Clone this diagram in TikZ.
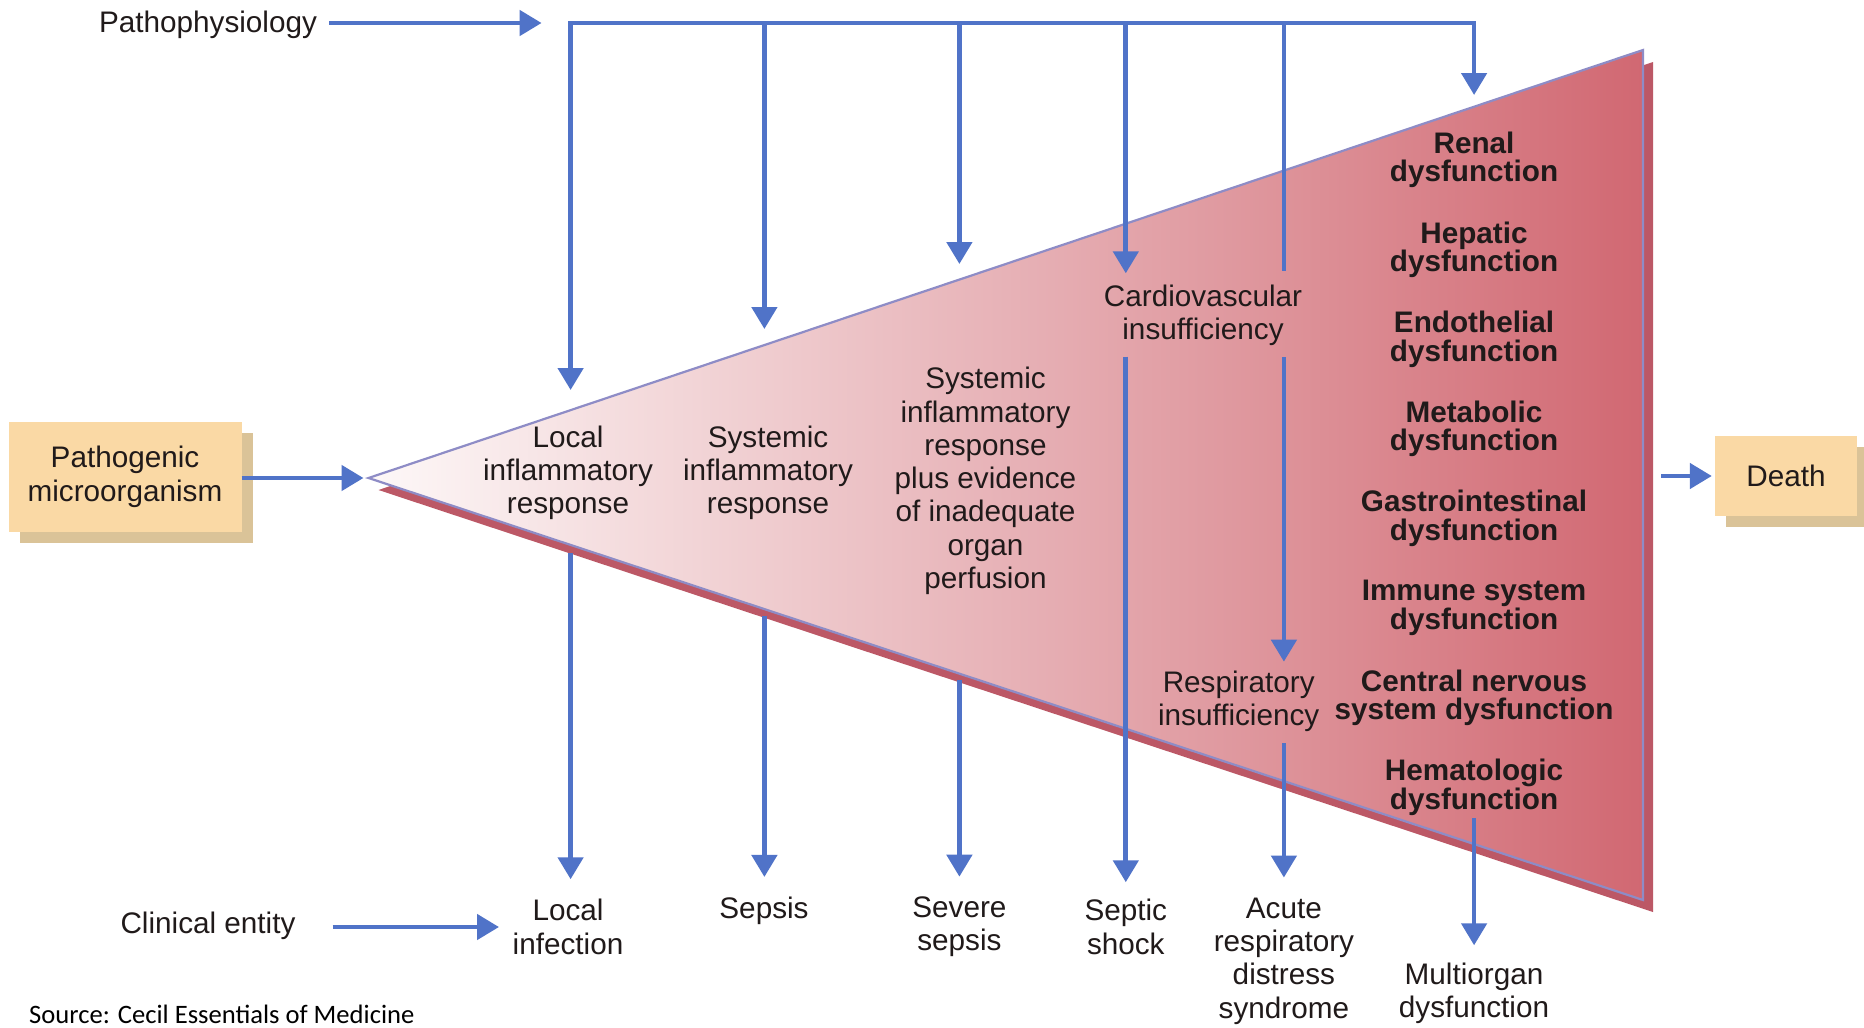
\documentclass[tikz,border=0pt]{standalone}
\usepackage{fontspec}
\setmainfont{Liberation Sans}
\newfontfamily\srcfont{Carlito}
\usetikzlibrary{arrows.meta,calc,shadows}
\definecolor{arrblue}{RGB}{80,115,200}
\definecolor{boxfill}{RGB}{250,217,165}
\definecolor{boxshadow}{RGB}{218,195,152}
\definecolor{txt}{RGB}{32,26,26}
\definecolor{edgecol}{RGB}{142,140,198}
\definecolor{trishadow}{RGB}{188,88,102}
\definecolor{tA}{RGB}{253,248,248}
\definecolor{tB}{RGB}{242,213,215}
\definecolor{tC}{RGB}{231,178,183}
\definecolor{tD}{RGB}{220,142,149}
\definecolor{tE}{RGB}{209,104,114}
\pgfdeclarehorizontalshading{trishade}{100bp}{color(0bp)=(tA); color(25bp)=(tA); color(37.5bp)=(tB); color(50bp)=(tC); color(62.5bp)=(tD); color(75bp)=(tE); color(100bp)=(tE)}
\tikzset{
  lbl/.style={font=\fontsize{29.7pt}{33.3pt}\selectfont, text=txt, align=center, inner sep=0pt},
  blbl/.style={font=\bfseries\fontsize{29.7pt}{28.5pt}\selectfont, text=txt, align=center, inner sep=0pt},
  arr/.style={draw=arrblue, line width=4.7pt, -{Triangle[length=22pt,width=25pt]}},
  ln/.style={draw=arrblue, line width=4.7pt},
  tanbox/.style={lbl, fill=boxfill, drop shadow={shadow xshift=11pt, shadow yshift=-11pt, fill=boxshadow, opacity=1}}
}
\begin{document}
\begin{tikzpicture}[x=1pt,y=-1pt]
\useasboundingbox (0,0) rectangle (1864,1028);
\fill[white] (0,0) rectangle (1864,1028);

% triangle
\coordinate (apex) at (368.5,478);
\coordinate (trt) at (1643,50);
\coordinate (trb) at (1643,900);
\coordinate (trmid) at (1643,476);
\fill[trishadow] ($(apex)+(10,12)$) -- ($(trt)+(10,12)$) -- ($(trb)+(10,12)$) -- cycle;
\shadedraw[shading=trishade, draw=edgecol, line width=2.2pt, line join=miter] (apex) -- (trt) -- (trb) -- cycle;

% boxes
\node[tanbox, minimum width=233pt, minimum height=110pt] (patho) at (125,476.7) {Pathogenic\\microorganism};
\node[tanbox, minimum width=142pt, minimum height=80pt] (death) at (1786,476) {Death};

% side labels
\node[lbl] (ph) at (208,25) {Pathophysiology};
\node[lbl] (ce) at (208,926) {Clinical entity};
\node[font=\srcfont\fontsize{26.6pt}{30pt}\selectfont, inner sep=0pt, anchor=west] (src) at (29,1014) {Source: Cecil Essentials of Medicine};

% middle labels
\node[lbl] (lir) at (568,473) {Local\\inflammatory\\response};
\node[lbl] (sir) at (768,473) {Systemic\\inflammatory\\response};
\node[lbl] (sirp) at (985.5,481) {Systemic\\inflammatory\\response\\plus evidence\\of inadequate\\organ\\perfusion};
\node[lbl] (cv) at (1203,315) {Cardiovascular\\insufficiency};
\node[lbl] (resp) at (1238.7,701.4) {Respiratory\\insufficiency};

% organ dysfunctions
\node[blbl] (ren) at (1474,160) {Renal\\dysfunction};
\node[blbl] (hep) at (1474,249.6) {Hepatic\\dysfunction};
\node[blbl] (endo) at (1474,339.2) {Endothelial\\dysfunction};
\node[blbl] (meta) at (1474,428.8) {Metabolic\\dysfunction};
\node[blbl] (gi) at (1474,518.4) {Gastrointestinal\\dysfunction};
\node[blbl] (imm) at (1474,608) {Immune system\\dysfunction};
\node[blbl] (cns) at (1474,697.6) {Central nervous\\system dysfunction};
\node[blbl] (hem) at (1474,787.2) {Hematologic\\dysfunction};

% clinical entities
\node[lbl] (linf) at (568,927) {Local\\infection};
\node[lbl] (seps) at (764,911) {Sepsis};
\node[lbl] (sev) at (959.4,927) {Severe\\sepsis};
\node[lbl] (shock) at (1125.8,927) {Septic\\shock};
\node[lbl] (ards) at (1283.9,961) {Acute\\respiratory\\distress\\syndrome};
\node[lbl] (multi) at (1474,993) {Multiorgan\\dysfunction};

% coordinates of the pathophysiology rail
\coordinate (t1) at (570.6,23);
\coordinate (t2) at (764.4,23);
\coordinate (t3) at (959.4,23);
\coordinate (t4) at (1125.8,23);
\coordinate (t5) at (1283.9,23);
\coordinate (t6) at (1474.1,23);
\coordinate (u1) at (570.6,390);
\coordinate (u2) at (764.4,329);
\coordinate (u3) at (959.4,264);
\coordinate (u5) at (1283.9,271);
\coordinate (u6) at (1474.1,95);
\coordinate (s1) at (570.6,553);
\coordinate (s2) at (764.4,616);
\coordinate (s3) at (959.4,680);
\coordinate (s5) at (1283.9,357);
\coordinate (s6) at (1474.1,818);
\coordinate (cin) at (499,927);

% input arrows
\draw[arr] ([xshift=12pt]ph.east |- t1) -- ([xshift=-29pt]t1);
\draw[arr] ([xshift=37pt]ce.east |- cin) -- (cin);
\draw[arr, shorten >=5pt] (patho.east |- apex) -- (apex);
\draw[arr, shorten >=3pt] ([xshift=18pt]trmid) -- (death.west);

% rail
\draw[ln, line cap=rect] (t1) -- (t6);
\draw[arr] (t1) -- (u1);
\draw[arr] (t2) -- (u2);
\draw[arr] (t3) -- (u3);
\draw[arr, shorten >=11pt] (t4) -- (t4 |- cv.north);
\draw[ln] (t5) -- (u5);
\draw[arr] (t6) -- (u6);

% lower arrows
\draw[arr, shorten >=20pt] (s1) -- (s1 |- linf.north);
\draw[arr, shorten >=20pt] (s2) -- (s2 |- seps.north);
\draw[arr, shorten >=20pt] (s3) -- (s3 |- sev.north);
\draw[arr, shorten >=17pt] ([yshift=-11pt]cv.south -| t4) -- (t4 |- shock.north);
\draw[arr, shorten >=9pt] (s5) -- (s5 |- resp.north);
\draw[arr, shorten >=20pt] ([yshift=-11pt]resp.south -| t5) -- (t5 |- ards.north);
\draw[arr, shorten >=17pt] (s6) -- (s6 |- multi.north);
\end{tikzpicture}
\end{document}
